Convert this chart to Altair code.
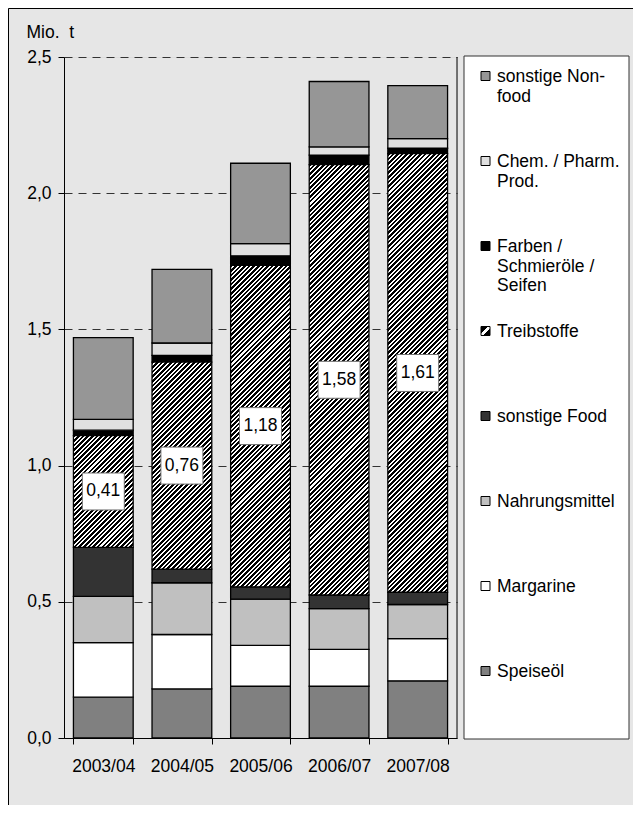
import altair as alt
import pandas as pd

# ---------------- data ----------------
years = ["2003/04", "2004/05", "2005/06", "2006/07", "2007/08"]
# stack order bottom -> top
categories = ["Speiseöl", "Margarine", "Nahrungsmittel", "sonstige Food",
              "Treibstoffe", "Farben / Schmieröle / Seifen",
              "Chem. / Pharm. Prod.", "sonstige Non-food"]
speiseoel = [0.15, 0.18, 0.19, 0.19, 0.21]
margarine = [0.20, 0.20, 0.15, 0.135, 0.155]
nahrungsmittel = [0.17, 0.19, 0.17, 0.15, 0.125]
sonstige_food = [0.18, 0.05, 0.045, 0.05, 0.045]
treibstoffe = [0.41, 0.76, 1.18, 1.58, 1.61]
farben = [0.02, 0.025, 0.035, 0.035, 0.02]
chem = [0.04, 0.045, 0.045, 0.03, 0.035]
nonfood = [0.30, 0.27, 0.295, 0.24, 0.195]
series = [speiseoel, margarine, nahrungsmittel, sonstige_food,
          treibstoffe, farben, chem, nonfood]
colors = ["#808080", "#ffffff", "#c0c0c0", "#333333",
          "#000000", "#000000", "#e0e0e0", "#969696"]
# legend (top -> bottom) with line breaks as in the original
legend_order = ["sonstige Non-food", "Chem. / Pharm. Prod.",
                "Farben / Schmieröle / Seifen", "Treibstoffe", "sonstige Food",
                "Nahrungsmittel", "Margarine", "Speiseöl"]
legend_text = ["sonstige Non-\nfood", "Chem. / Pharm.\nProd.",
               "Farben /\nSchmieröle /\nSeifen", "Treibstoffe", "sonstige Food",
               "Nahrungsmittel", "Margarine", "Speiseöl"]

rows = []
for ci, (cat, vals) in enumerate(zip(categories, series)):
    for yr, v in zip(years, vals):
        rows.append({"year": yr, "cat": cat, "order": ci, "value": v})
df = pd.DataFrame(rows)
leg_df = pd.DataFrame({"cat": legend_order, "label": legend_text})
one = pd.DataFrame({"k": [0]})

# ---------------- layout / style ----------------
W, H = 393, 681
YMAX = 2.5
FONT = "Liberation Sans"
FS = 17.5
P_IN, P_OUT = 0.24, 0.12
step = W / (len(years) - P_IN + 2 * P_OUT)
bar_w = step * (1 - P_IN)


def hatch(wpx, hpx, period=4.6, black=0.55):
    total = wpx + hpx
    n = max(1, int(round(total / period)))
    d = wpx ** 2 + hpx ** 2
    stops = []
    for k in range(n):
        s0 = round(k / n, 5)
        s1 = round((k + black) / n, 5)
        s2 = round((k + 1) / n, 5)
        stops += [{"offset": s0, "color": "black"},
                  {"offset": s1, "color": "black"},
                  {"offset": s1, "color": "white"},
                  {"offset": s2, "color": "white"}]
    return {"gradient": "linear", "x1": 0, "y1": 0,
            "x2": round(total * wpx / d, 6), "y2": round(total * hpx / d, 6),
            "stops": stops}


swatch_grad = {"gradient": "linear", "x1": 0, "y1": 0, "x2": 1, "y2": 1,
               "stops": [{"offset": 0, "color": "black"},
                         {"offset": 0.4, "color": "black"},
                         {"offset": 0.4, "color": "white"},
                         {"offset": 0.6, "color": "white"},
                         {"offset": 0.6, "color": "black"},
                         {"offset": 1, "color": "black"}]}

x_enc = alt.X("year:N",
              scale=alt.Scale(domain=years, paddingInner=P_IN, paddingOuter=P_OUT),
              axis=alt.Axis(title=None, labelAngle=0, tickBand="extent",
                            tickSize=6, tickColor="black", domainColor="black",
                            labelFontSize=FS, labelFont=FONT, labelColor="black",
                            labelPadding=13))
y_scale = alt.Scale(domain=[0, YMAX], nice=False, zero=True)
y_axis = alt.Axis(values=[0, 0.5, 1.0, 1.5, 2.0, 2.5],
                  labelExpr="replace(format(datum.value, '.1f'), '.', ',')",
                  grid=True, gridDash=[8, 6], gridColor="#333333", gridWidth=1,
                  tickSize=6, tickColor="black", domainColor="black",
                  labelFontSize=FS, labelFont=FONT, labelColor="black",
                  labelPadding=7,
                  title="Mio.\u00a0\u00a0t", titleAngle=0, titleAlign="left",
                  titleBaseline="alphabetic", titleX=-38, titleY=-20,
                  titleFontSize=FS, titleFont=FONT, titleFontWeight="normal",
                  titleColor="black")

base = alt.Chart(df).transform_stack(
    as_=["y0", "y1"], stack="value", groupby=["year"],
    sort=[alt.SortField(field="order", order="ascending")])

bars = base.transform_filter("datum.cat != 'Treibstoffe'").mark_bar(
    stroke="black", strokeWidth=1.3).encode(
    x=x_enc,
    y=alt.Y("y0:Q", scale=y_scale, axis=y_axis),
    y2="y1:Q",
    fill=alt.Fill("cat:N", scale=alt.Scale(domain=categories, range=colors),
                  legend=None))

hatch_layers = []
for yr, v in zip(years, treibstoffe):
    g = hatch(bar_w, v * H / YMAX)
    hatch_layers.append(
        base.transform_filter(
            f"datum.cat == 'Treibstoffe' && datum.year == '{yr}'"
        ).mark_bar(fill=g, stroke="black", strokeWidth=1.3).encode(
            x=alt.X("year:N", scale=alt.Scale(domain=years, paddingInner=P_IN,
                                              paddingOuter=P_OUT)),
            y=alt.Y("y0:Q", scale=y_scale),
            y2="y1:Q"))

lab_base = base.transform_filter("datum.cat == 'Treibstoffe'").transform_calculate(
    mid="(datum.y0 + datum.y1) / 2",
    lab="replace(format(datum.value, '.2f'), '.', ',')")

box_shape = "M-1,-0.88L1,-0.88L1,0.88L-1,0.88Z"
label_boxes = lab_base.mark_point(
    shape=box_shape, size=42 * 42, filled=True, fill="white",
    stroke="#707070", strokeWidth=1, opacity=1).encode(
    x=alt.X("year:N"), y=alt.Y("mid:Q", scale=y_scale))
label_text = lab_base.mark_text(
    font=FONT, fontSize=FS, color="black", align="center",
    baseline="middle").encode(
    x=alt.X("year:N"), y=alt.Y("mid:Q", scale=y_scale), text="lab:N")

right_edge = alt.Chart(one).mark_rule(color="black", strokeWidth=1).encode(
    x=alt.value(W), y=alt.value(0), y2=alt.value(H))

main = alt.layer(bars, *hatch_layers, label_boxes, label_text, right_edge)

# frame of the whole figure
frame_left = alt.Chart(one).mark_rule(color="black", strokeWidth=1).encode(
    x=alt.value(-55.5), y=alt.value(-48.5), y2=alt.value(H + 200))
frame_top = alt.Chart(one).mark_rule(color="black", strokeWidth=1).encode(
    x=alt.value(-55.5), x2=alt.value(W + 300), y=alt.value(-48.5))

# legend
leg_box = alt.Chart(one).mark_rect(fill="white", stroke="#333333",
                                   strokeWidth=1).encode(
    x=alt.value(400), x2=alt.value(565), y=alt.value(-1), y2=alt.value(682))
leg_y = alt.Y("cat:N", scale=alt.Scale(type="point", domain=legend_order,
                                       range=[19, 614], padding=0), axis=None)
leg_sw = alt.Chart(leg_df).transform_filter("datum.cat != 'Treibstoffe'").mark_point(
    shape="square", size=81, filled=True, stroke="black", strokeWidth=1,
    opacity=1).encode(
    x=alt.value(421.5), y=leg_y,
    fill=alt.Fill("cat:N", scale=alt.Scale(domain=categories, range=colors),
                  legend=None))
leg_sw_h = alt.Chart(leg_df).transform_filter("datum.cat == 'Treibstoffe'").mark_point(
    shape="square", size=81, filled=True, fill=swatch_grad, stroke="black",
    strokeWidth=1, opacity=1).encode(x=alt.value(421.5), y=leg_y)
leg_txt = alt.Chart(leg_df).mark_text(
    font=FONT, fontSize=FS, color="black", align="left", baseline="alphabetic",
    dy=6, lineBreak="\n", lineHeight=19.5).encode(
    x=alt.value(433), y=leg_y, text="label:N")

chart = alt.layer(frame_left, frame_top, main, leg_box, leg_sw, leg_sw_h,
                  leg_txt).resolve_scale(y="independent").properties(
    width=W, height=H,
    padding={"left": 56, "top": 49, "right": 176, "bottom": 67},
    autosize=alt.AutoSizeParams(type="none"),
    background="#e6e6e6",
).configure_view(fill="white", stroke="transparent").configure(font=FONT)

chart.save("out.html", embed_options={"renderer": "svg", "actions": False})
